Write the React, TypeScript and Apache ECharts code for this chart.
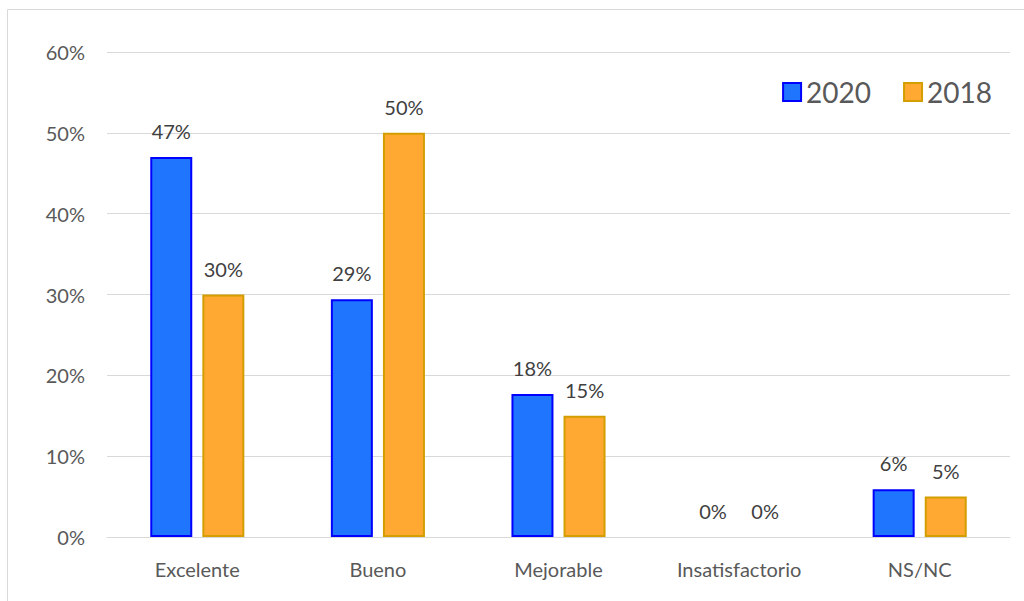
import React, { useEffect, useRef } from "react";
import * as echarts from "echarts";

const categories = ["Excelente", "Bueno", "Mejorable", "Insatisfactorio", "NS/NC"];
const series2020 = [47, 29.4, 17.7, 0, 5.9];
const series2018 = [30, 50, 15, 0, 5];
const yTicks = { min: 0, max: 60, interval: 10 };

export default function App() {
  const ref = useRef<HTMLDivElement>(null);
  useEffect(() => {
    if (!ref.current) return;
    const chart = echarts.init(ref.current, undefined, { renderer: "svg" });
    const font = "Lato, Open Sans, sans-serif";
    const label = {
      show: true,
      position: "top",
      distance: 16,
      fontSize: 20,
      fontFamily: font,
      color: "#404040",
      formatter: (p: any) => Math.round(p.value) + "%",
    };
    const toData = (arr: number[]) =>
      arr.map((v) => (v === 0 ? { value: v, itemStyle: { borderWidth: 0 } } : v));
    chart.setOption({
      animation: false,
      backgroundColor: "#ffffff",
      graphic: [
        {
          type: "rect",
          shape: { x: 7.5, y: 9.5, width: 1100, height: 700 },
          style: { fill: "none", stroke: "#d9d9d9", lineWidth: 1 },
          silent: true,
        },
      ],
      legend: {
        right: 27,
        top: 73,
        icon: "rect",
        itemWidth: 18,
        itemHeight: 18,
        itemGap: 32,
        textStyle: { fontSize: 28, color: "#595959", fontFamily: font },
        data: ["2020", "2018"],
      },
      grid: { left: 107, right: 14, top: 52, bottom: 64 },
      xAxis: {
        type: "category",
        data: categories,
        axisLine: { show: true, lineStyle: { color: "#d9d9d9", width: 1 } },
        axisTick: { show: false },
        axisLabel: { fontSize: 20, color: "#595959", fontFamily: font, margin: 22 },
      },
      yAxis: {
        type: "value",
        min: yTicks.min,
        max: yTicks.max,
        interval: yTicks.interval,
        axisLine: { show: false },
        axisTick: { show: false },
        splitLine: { lineStyle: { color: "#d9d9d9", width: 1 } },
        axisLabel: {
          fontSize: 20,
          color: "#595959",
          fontFamily: font,
          margin: 22,
          formatter: (v: number) => v + "%",
        },
      },
      series: [
        {
          name: "2020",
          type: "bar",
          data: toData(series2020),
          barWidth: 42,
          barGap: "24%",
          itemStyle: { color: "#1f75fe", borderColor: "#0000ff", borderWidth: 2 },
          label,
        },
        {
          name: "2018",
          type: "bar",
          data: toData(series2018),
          barWidth: 42,
          itemStyle: { color: "#ffa832", borderColor: "#d39e00", borderWidth: 2 },
          label,
        },
      ],
    });
    return () => chart.dispose();
  }, []);
  return (
    <div
      ref={ref}
      style={{ position: "fixed", left: 0, top: 0, width: 1024, height: 601 }}
    />
  );
}
